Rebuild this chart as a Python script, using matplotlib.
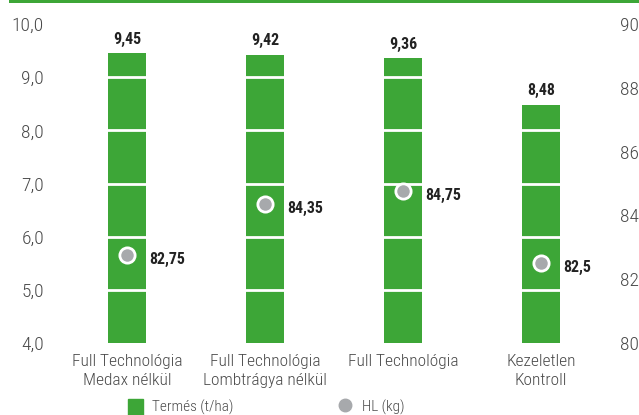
import matplotlib
matplotlib.use("Agg")
import matplotlib.pyplot as plt
from matplotlib import font_manager
from matplotlib.patches import Patch, Rectangle
from matplotlib.lines import Line2D

# pick a narrow face if one is around
names = {f.name for f in font_manager.fontManager.ttflist}
narrow = [n for n in ['Roboto Condensed', 'Liberation Sans Narrow', 'Open Sans Condensed'] if n in names]
plt.rcParams['font.family'] = narrow[:1] + ['DejaVu Sans']
plt.rcParams['font.stretch'] = 'condensed'

categories = ['Full Technológia\nMedax nélkül', 'Full Technológia\nLombtrágya nélkül',
              'Full Technológia', 'Kezeletlen\nKontroll']
termes = [9.45, 9.42, 9.36, 8.48]
hl = [82.75, 84.35, 84.75, 82.5]
hl_labels = ['82,75', '84,35', '84,75', '82,5']
left_ticks = [4, 5, 6, 7, 8, 9, 10]
right_ticks = [80, 82, 84, 86, 88, 90]

green = '#3da637'
gray = '#a7a9ac'
txt = '#4a4a4a'

fig = plt.figure(figsize=(6.39, 4.15), dpi=100)
ax = fig.add_axes([58 / 639, 72 / 415, 552 / 639, 319 / 415])
ax2 = ax.twinx()

x = list(range(len(categories)))
ax.bar(x, [t - 4 for t in termes], bottom=4, width=0.275, color=green, zorder=2)
for t in left_ticks[1:-1]:
    ax.axhline(t, color='white', lw=2, zorder=3)

for xi, t in zip(x, termes):
    ax.text(xi, t + 0.12, f'{t:.2f}'.replace('.', ','), ha='center', va='bottom',
            fontsize=11.5, fontweight='bold', color='#222222')

ax.set_xlim(-0.5, 3.5)
ax.set_ylim(4, 10)
ax.set_yticks(left_ticks)
ax.set_yticklabels([f'{t:.1f}'.replace('.', ',') for t in left_ticks])
ax.set_xticks(x)
ax.set_xticklabels(categories, linespacing=1.3)

ax2.set_ylim(80, 90)
ax2.set_yticks(right_ticks)
ax2.set_yticklabels([str(t) for t in right_ticks])
ax2.plot(x, hl, 'o', ms=11, mfc=gray, mec='white', mew=2, ls='none', zorder=5)
for xi, h, lab in zip(x, hl, hl_labels):
    ax2.text(xi + 0.16, h - 0.12, lab, ha='left', va='center',
             fontsize=11.5, fontweight='bold', color='#222222')

for a in (ax, ax2):
    for s in a.spines.values():
        s.set_visible(False)
    a.tick_params(length=0, labelsize=14, labelcolor=txt)
    for lbl in a.get_yticklabels():
        lbl.set_fontweight('light')
for lbl in ax.get_xticklabels():
    lbl.set_fontsize(12.5)
    lbl.set_fontweight('light')
ax.tick_params(axis='y', pad=10)
ax.tick_params(axis='x', pad=8)
ax2.tick_params(axis='y', pad=7)

fig.add_artist(Rectangle((9 / 639, 412 / 415), 1, 3 / 415, color=green,
                         transform=fig.transFigure, lw=0))

handles = [Patch(color=green), Line2D([], [], marker='o', ls='none', ms=9, mfc=gray, mec=gray)]
leg = fig.legend(handles, ['Termés (t/ha)', 'HL (kg)'], loc='center left', ncol=2,
                 bbox_to_anchor=(128 / 639, 8 / 415), frameon=False, fontsize=11,
                 borderpad=0, borderaxespad=0, columnspacing=6.8, handlelength=1.0,
                 handleheight=1.3, handletextpad=0.6, labelcolor=txt)
for t in leg.get_texts():
    t.set_fontweight('light')

fig.savefig('out.png', dpi=100)
